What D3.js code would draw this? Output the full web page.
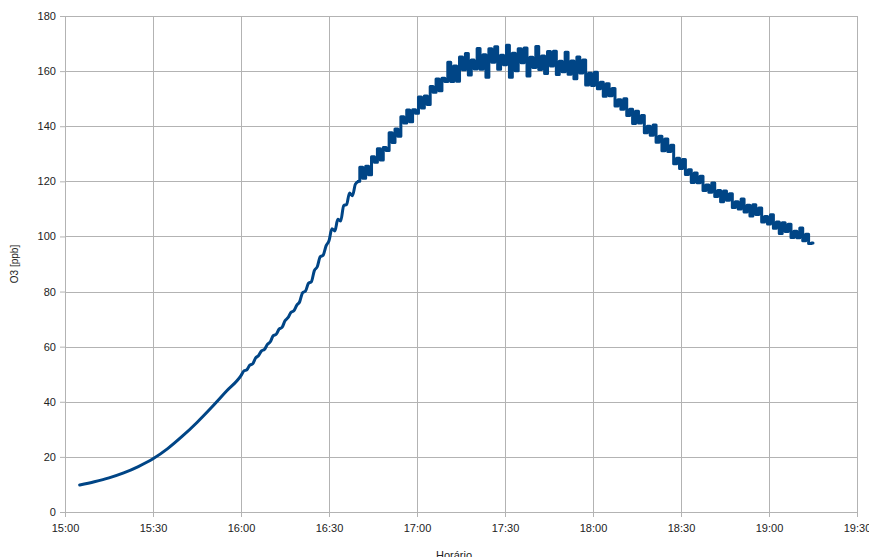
<!DOCTYPE html>
<html lang="pt">
<head>
    <meta charset="UTF-8">
    <title>O3</title>
    <script src="https://d3js.org/d3.v7.min.js"></script>
    <style>
        body { margin: 0; background: #fff; }
        text { font-family: "Liberation Sans", Arial, sans-serif; }
    </style>
</head>
<body>
<div id="main"></div>
<script>
    // leituras do gráfico (hora, O3 em ppb)
    const times = [
        "15:05", "15:10", "15:15", "15:20", "15:25", "15:30", "15:35", "15:40", "15:45", "15:50", "15:55", "16:00",
        "16:01", "16:02", "16:03", "16:04", "16:05", "16:06", "16:07", "16:08", "16:09", "16:10",
        "16:11", "16:12", "16:13", "16:14", "16:15", "16:16", "16:17", "16:18", "16:19", "16:20",
        "16:21", "16:22", "16:23", "16:24", "16:25", "16:26", "16:27", "16:28", "16:29", "16:30",
        "16:31", "16:32", "16:33", "16:34", "16:35", "16:36", "16:37", "16:38", "16:39", "16:40",
        "16:41", "16:42", "16:43", "16:44", "16:45", "16:46", "16:47", "16:48", "16:49", "16:50",
        "16:51", "16:52", "16:53", "16:54", "16:55", "16:56", "16:57", "16:58", "16:59", "17:00",
        "17:01", "17:02", "17:03", "17:04", "17:05", "17:06", "17:07", "17:08", "17:09", "17:10",
        "17:11", "17:12", "17:13", "17:14", "17:15", "17:16", "17:17", "17:18", "17:19", "17:20",
        "17:21", "17:22", "17:23", "17:24", "17:25", "17:26", "17:27", "17:28", "17:29", "17:30",
        "17:31", "17:32", "17:33", "17:34", "17:35", "17:36", "17:37", "17:38", "17:39", "17:40",
        "17:41", "17:42", "17:43", "17:44", "17:45", "17:46", "17:47", "17:48", "17:49", "17:50",
        "17:51", "17:52", "17:53", "17:54", "17:55", "17:56", "17:57", "17:58", "17:59", "18:00",
        "18:01", "18:02", "18:03", "18:04", "18:05", "18:06", "18:07", "18:08", "18:09", "18:10",
        "18:11", "18:12", "18:13", "18:14", "18:15", "18:16", "18:17", "18:18", "18:19", "18:20",
        "18:21", "18:22", "18:23", "18:24", "18:25", "18:26", "18:27", "18:28", "18:29", "18:30",
        "18:31", "18:32", "18:33", "18:34", "18:35", "18:36", "18:37", "18:38", "18:39", "18:40",
        "18:41", "18:42", "18:43", "18:44", "18:45", "18:46", "18:47", "18:48", "18:49", "18:50",
        "18:51", "18:52", "18:53", "18:54", "18:55", "18:56", "18:57", "18:58", "18:59", "19:00",
        "19:01", "19:02", "19:03", "19:04", "19:05", "19:06", "19:07", "19:08", "19:09", "19:10",
        "19:11", "19:12", "19:13", "19:14", "19:15"
    ]
    const o3 = [
        9.8, 11.0, 12.4, 14.2, 16.5, 19.3, 23.0, 27.5, 32.5, 38.0, 43.8, 49.5,
        51.2, 51.6, 53.3, 53.8, 55.9, 56.8, 58.5, 59.0, 60.8, 61.8,
        64.0, 64.5, 66.4, 67.0, 69.4, 70.5, 72.4, 73.0, 75.0, 76.3,
        79.6, 80.2, 83.0, 83.6, 87.6, 89.0, 92.6, 93.2, 96.6, 98.4,
        102.8, 102.0, 106.2, 105.6, 111.2, 111.6, 115.8, 114.8, 119.0, 120.0,
        125.1, 121.1, 125.5, 122.4, 128.9, 126.9, 131.8, 127.7, 132.3, 131.2,
        137.6, 134.1, 139.0, 136.4, 143.4, 141.2, 145.9, 141.6, 146.0, 144.7,
        150.6, 146.6, 151.0, 147.9, 154.4, 152.3, 157.1, 152.9, 157.4, 156.2,
        163.2, 156.2, 161.9, 156.3, 165.1, 160.5, 166.4, 158.6, 164.0, 160.8,
        168.2, 160.7, 165.9, 157.8, 168.1, 163.2, 168.8, 160.7, 165.8, 162.3,
        169.4, 157.8, 166.5, 160.1, 168.1, 163.0, 168.4, 158.2, 165.0, 161.3,
        168.9, 160.6, 165.5, 159.1, 167.1, 161.9, 167.2, 158.8, 163.6, 159.8,
        166.8, 158.9, 163.7, 157.2, 165.1, 159.3, 164.0, 155.0, 159.2, 154.8,
        159.6, 153.6, 156.0, 150.9, 155.4, 151.1, 153.7, 147.3, 149.6, 146.2,
        150.0, 143.9, 146.2, 141.0, 145.4, 141.2, 143.9, 137.6, 140.0, 136.7,
        140.4, 134.2, 136.4, 131.1, 135.4, 130.8, 133.1, 126.4, 128.4, 124.7,
        127.9, 122.5, 124.2, 119.6, 123.0, 119.5, 121.8, 116.7, 118.7, 116.0,
        119.4, 114.5, 116.7, 112.6, 116.5, 113.1, 115.5, 110.5, 112.6, 110.0,
        113.6, 108.9, 111.3, 107.4, 111.5, 108.0, 110.3, 105.2, 107.2, 104.5,
        107.9, 103.0, 105.2, 101.1, 105.0, 101.8, 104.4, 99.6, 101.9, 99.5,
        103.1, 98.4, 100.8, 97.4, 97.6
    ]
    const yTicks = [0, 20, 40, 60, 80, 100, 120, 140, 160, 180]
    const xTickLabels = ["15:00", "15:30", "16:00", "16:30", "17:00", "17:30", "18:00", "18:30", "19:00", "19:30"]
    // trecho em que o ruído domina (desenhado em degraus)
    const noisyFrom = "16:40"

    const parseTime = d3.timeParse("%H:%M")
    const data = times.map((t, i) => ({t: parseTime(t), v: o3[i]}))
    const cut = parseTime(noisyFrom)
    const smoothPart = data.filter(d => d.t <= cut)
    const noisyPart = data.filter(d => d.t >= cut)

    let margin = {top: 16, right: 12, bottom: 45, left: 65},
        width = 869,
        height = 557

    let svg = d3.select("#main")
        .append("svg")
        .attr("width", width)
        .attr("height", height)

    let XScale = d3.scaleTime()
        .domain([parseTime(xTickLabels[0]), parseTime(xTickLabels[xTickLabels.length - 1])])
        .range([margin.left, width - margin.right])

    let YScale = d3.scaleLinear()
        .domain([0, 180])
        .range([height - margin.bottom, margin.top])

    const gridColor = "#b3b3b3"

    // grade
    svg.append("g").selectAll("line")
        .data(yTicks)
        .enter()
        .append("line")
        .attr("x1", margin.left)
        .attr("x2", width - margin.right)
        .attr("y1", d => Math.round(YScale(d)) + 0.5)
        .attr("y2", d => Math.round(YScale(d)) + 0.5)
        .attr("stroke", gridColor)

    svg.append("g").selectAll("line")
        .data(xTickLabels.map(parseTime))
        .enter()
        .append("line")
        .attr("x1", d => Math.round(XScale(d)) + 0.5)
        .attr("x2", d => Math.round(XScale(d)) + 0.5)
        .attr("y1", margin.top)
        .attr("y2", height - margin.bottom)
        .attr("stroke", gridColor)

    // eixo x: rótulos a cada 30 min, marcas a cada 15 min
    let x_axis = d3.axisBottom(XScale)
        .tickValues(xTickLabels.map(parseTime))
        .tickFormat(d3.timeFormat("%H:%M"))
        .tickSize(5)
        .offset(0.5)

    let x_minor = d3.axisBottom(XScale)
        .ticks(d3.timeMinute.every(15))
        .tickFormat("")
        .tickSize(5)
        .offset(0.5)

    let gx = svg.append("g")
        .attr("transform", `translate(0, ${Math.round(YScale(0))})`)
    gx.call(x_minor)
    gx.call(x_axis)
    gx.selectAll("path, line").attr("stroke", gridColor)
    gx.selectAll("text").attr("fill", "#222").attr("font-size", 11)
        .attr("font-family", "Liberation Sans, Arial, sans-serif").attr("dy", "1.05em")

    let y_axis = d3.axisLeft(YScale)
        .tickValues(yTicks)
        .tickSize(5)
        .offset(0.5)

    let gy = svg.append("g")
        .attr("transform", `translate(${margin.left}, 0)`)
        .call(y_axis)
    gy.selectAll("path, line").attr("stroke", gridColor)
    gy.selectAll("text").attr("fill", "#222").attr("font-size", 11)
        .attr("font-family", "Liberation Sans, Arial, sans-serif").attr("dx", "-0.1em")

    // série: trecho suave + trecho com ruído (degraus)
    let smoothLine = d3.line()
        .curve(d3.curveMonotoneX)
        .x(d => XScale(d.t))
        .y(d => YScale(d.v))

    let noisyLine = d3.line()
        .curve(d3.curveStep)
        .x(d => XScale(d.t))
        .y(d => YScale(d.v))

    svg.append("path")
        .datum(smoothPart)
        .attr("d", smoothLine)
        .attr("fill", "none")
        .attr("stroke", "#004586")
        .attr("stroke-width", 3)
        .attr("stroke-linejoin", "round")
        .attr("stroke-linecap", "round")

    svg.append("path")
        .datum(noisyPart)
        .attr("d", noisyLine)
        .attr("fill", "none")
        .attr("stroke", "#004586")
        .attr("stroke-width", 3)
        .attr("stroke-linejoin", "round")
        .attr("stroke-linecap", "round")

    // títulos dos eixos
    svg.append("text")
        .attr("transform", `translate(18, ${(margin.top + height - margin.bottom) / 2}) rotate(-90)`)
        .attr("text-anchor", "middle")
        .attr("font-size", 10)
        .attr("fill", "#222")
        .text("O3 [ppb]")

    svg.append("text")
        .attr("x", 454)
        .attr("y", 559)
        .attr("text-anchor", "middle")
        .attr("font-size", 11)
        .attr("fill", "#222")
        .text("Horário")
</script>
</body>
</html>
